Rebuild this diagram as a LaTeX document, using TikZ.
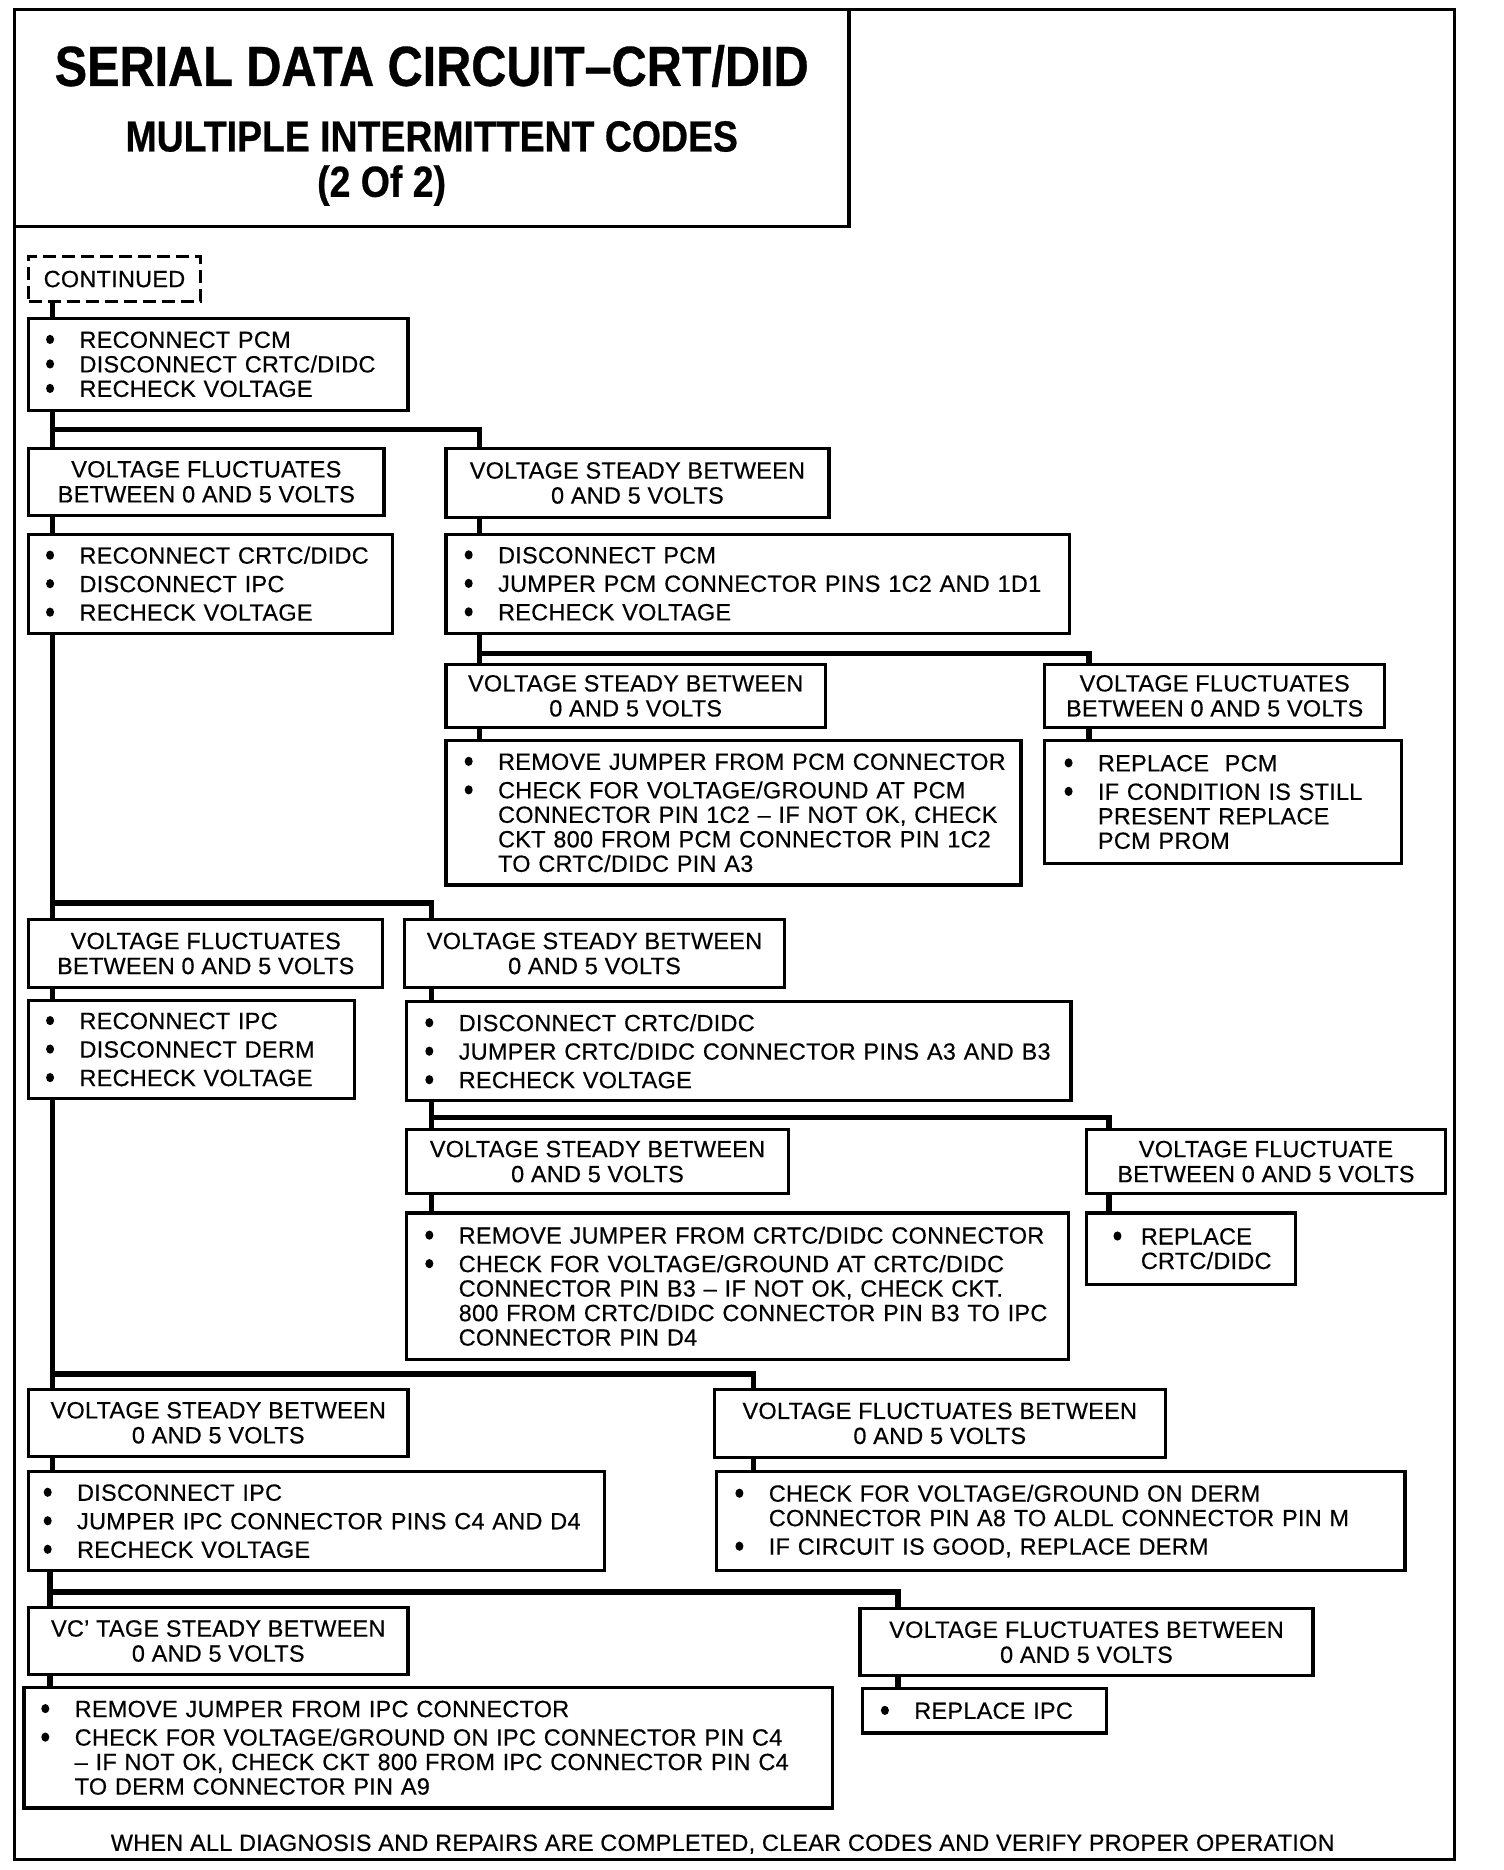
\documentclass[tikz,border=0pt]{standalone}
\usepackage{fontspec}
\setmainfont{Liberation Sans}[LetterSpace=1,FakeBold=0.4]
\newfontfamily\titlefont{Liberation Sans}[FakeStretch=0.86,FakeBold=0.6]
\newcommand\bodyfont{\fontsize{23.5}{24.5}\selectfont}
\newcommand\bul{\tikz[baseline=-8.5pt]\fill (0,0) ellipse[x radius=4pt,y radius=4.6pt];}
\newcommand\itm[1]{\mbox{\makebox[33.4pt][l]{\bul}#1}}
\newcommand\cnt[1]{\mbox{\hspace*{33.4pt}#1}}
\newcommand\hbx[7][hbox]{%
  \pgfmathsetlengthmacro\bxw{(#5-#3)*1.1927pt}%
  \pgfmathsetlengthmacro\bxh{(#6-#4)*1.1927pt}%
  \node[#1,minimum width=\bxw,minimum height=\bxh,anchor=north west] (#2) at (#3,#4) {#7};}
\newcommand\lbx[7]{%
  \pgfmathsetlengthmacro\bxw{(#4-#2)*1.1927pt}%
  \pgfmathsetlengthmacro\bxh{(#5-#3)*1.1927pt}%
  \pgfmathsetlengthmacro\bxs{#6*1.1927pt-4pt}%
  \pgfmathsetlengthmacro\bxt{\bxw-2*\bxs}%
  \node[lbox,inner xsep=\bxs,text width=\bxt,minimum height=\bxh,anchor=north west] (#1) at (#2,#3) {#7};}
\begin{document}
\begin{tikzpicture}[x=1.1927pt,y=-1.1927pt,
  box/.style={draw,line width=3.3pt,inner sep=0pt,outer sep=0pt,font=\bodyfont},
  hbox/.style={box,align=center,font=\fontsize{23.5}{25}\selectfont},
  lbox/.style={box,align=left},
  dbox/.style={hbox,dash pattern=on 13pt off 6pt},
  conn/.style={line width=5.5pt},
  frame/.style={line width=3pt},
  ttl/.style={font=\titlefont\bfseries\fontsize{56.5}{60}\selectfont,anchor=base,inner sep=0pt},
  sub/.style={font=\titlefont\bfseries\fontsize{43.5}{46}\selectfont,anchor=base,inner sep=0pt},
  foot/.style={font=\bodyfont,anchor=base,inner sep=0pt}]
\useasboundingbox (0,0) rectangle (1261,1568);
\draw[frame] (12,8) rectangle (1220,1559);
\hbx{titlebox}{12}{8}{712}{190}{}
\node[ttl] (title) at (362,72) {SERIAL DATA CIRCUIT–CRT/DID};
\node[sub] (subtitle) at (362,127) {MULTIPLE INTERMITTENT CODES};
\node[sub] (part) at (320,165) {(2 Of 2)};

\hbx[dbox]{cont}{24}{215}{168}{253}{CONTINUED}
\lbx{b1}{24}{267}{342}{344}{18}{\itm{RECONNECT PCM}\\\itm{DISCONNECT CRTC/DIDC}\\\itm{RECHECK VOLTAGE}}

\hbx{A1}{24}{376}{322}{432}{VOLTAGE FLUCTUATES\\BETWEEN 0 AND 5 VOLTS}
\hbx{B1}{374}{376}{695}{434}{VOLTAGE STEADY BETWEEN\\0 AND 5 VOLTS}
\lbx{A2}{24}{448}{329}{531}{18}{\itm{RECONNECT CRTC/DIDC}\\[4pt]\itm{DISCONNECT IPC}\\[4pt]\itm{RECHECK VOLTAGE}}
\lbx{B2}{374}{448}{897}{531}{19}{\itm{DISCONNECT PCM}\\[4pt]\itm{JUMPER PCM CONNECTOR PINS 1C2 AND 1D1}\\[4pt]\itm{RECHECK VOLTAGE}}

\hbx{B3}{374}{557}{692}{610}{VOLTAGE STEADY BETWEEN\\0 AND 5 VOLTS}
\hbx{C3}{876}{557}{1161}{610}{VOLTAGE FLUCTUATES\\BETWEEN 0 AND 5 VOLTS}
\lbx{B4}{374}{621}{856}{742}{19}{\itm{REMOVE JUMPER FROM PCM CONNECTOR}\\[4pt]\itm{CHECK FOR VOLTAGE/GROUND AT PCM}\\\cnt{CONNECTOR PIN 1C2 – IF NOT OK, CHECK}\\\cnt{CKT 800 FROM PCM CONNECTOR PIN 1C2}\\\cnt{TO CRTC/DIDC PIN A3}}
\lbx{C4}{876}{621}{1175}{724}{20}{\itm{REPLACE\ \ PCM}\\[4pt]\itm{IF CONDITION IS STILL}\\\cnt{PRESENT REPLACE}\\\cnt{PCM PROM}}

\hbx{D1}{24}{771}{321}{828}{VOLTAGE FLUCTUATES\\BETWEEN 0 AND 5 VOLTS}
\hbx{E1}{339}{771}{658}{828}{VOLTAGE STEADY BETWEEN\\0 AND 5 VOLTS}
\lbx{D2}{24}{839}{297}{921}{18}{\itm{RECONNECT IPC}\\[4pt]\itm{DISCONNECT DERM}\\[4pt]\itm{RECHECK VOLTAGE}}
\lbx{E2}{341}{840}{898}{923}{19}{\itm{DISCONNECT CRTC/DIDC}\\[4pt]\itm{JUMPER CRTC/DIDC CONNECTOR PINS A3 AND B3}\\[4pt]\itm{RECHECK VOLTAGE}}

\hbx{E3}{341}{947}{661}{1001}{VOLTAGE STEADY BETWEEN\\0 AND 5 VOLTS}
\hbx{F3}{911}{947}{1212}{1001}{VOLTAGE FLUCTUATE\\BETWEEN 0 AND 5 VOLTS}
\lbx{E4}{341}{1017}{896}{1140}{19}{\itm{REMOVE JUMPER FROM CRTC/DIDC CONNECTOR}\\[4pt]\itm{CHECK FOR VOLTAGE/GROUND AT CRTC/DIDC}\\\cnt{CONNECTOR PIN B3 – IF NOT OK, CHECK CKT.}\\\cnt{800 FROM CRTC/DIDC CONNECTOR PIN B3 TO IPC}\\\cnt{CONNECTOR PIN D4}}
\lbx{F4}{911}{1017}{1086}{1077}{26}{\mbox{\makebox[27.4pt][l]{\bul}REPLACE}\\\mbox{\hspace*{27.4pt}CRTC/DIDC}}

\hbx{G1}{24}{1165}{342}{1221}{VOLTAGE STEADY BETWEEN\\0 AND 5 VOLTS}
\hbx{H1}{599}{1165}{977}{1222}{VOLTAGE FLUCTUATES BETWEEN\\0 AND 5 VOLTS}
\lbx{G2}{24}{1234}{507}{1317}{16}{\itm{DISCONNECT IPC}\\[4pt]\itm{JUMPER IPC CONNECTOR PINS C4 AND D4}\\[4pt]\itm{RECHECK VOLTAGE}}
\lbx{H2}{601}{1234}{1178}{1317}{19}{\itm{CHECK FOR VOLTAGE/GROUND ON DERM}\\\cnt{CONNECTOR PIN A8 TO ALDL CONNECTOR PIN M}\\[4pt]\itm{IF CIRCUIT IS GOOD, REPLACE DERM}}

\hbx{I1}{24}{1348}{342}{1404}{VC' TAGE STEADY BETWEEN\\0 AND 5 VOLTS}
\hbx{J1}{721}{1349}{1101}{1405}{VOLTAGE FLUCTUATES BETWEEN\\0 AND 5 VOLTS}
\lbx{I2}{20}{1415}{698}{1516}{18}{\itm{REMOVE JUMPER FROM IPC CONNECTOR}\\[4pt]\itm{CHECK FOR VOLTAGE/GROUND ON IPC CONNECTOR PIN C4}\\\cnt{– IF NOT OK, CHECK CKT 800 FROM IPC CONNECTOR PIN C4}\\\cnt{TO DERM CONNECTOR PIN A9}}
\lbx{J2}{723}{1416}{928}{1453}{19}{\itm{REPLACE IPC}}

\node[foot] (footer) at (606,1552) {WHEN ALL DIAGNOSIS AND REPAIRS ARE COMPLETED, CLEAR CODES AND VERIFY PROPER OPERATION};

\coordinate (tA) at (44,0);
\coordinate (tL) at (42,0);
\coordinate (j1) at (402,360);
\coordinate (j2) at (913,548);
\coordinate (j3) at (362,757);
\coordinate (j4) at (930,937);
\coordinate (j5) at (632,1152);
\coordinate (j6) at (753,1335);

\draw[conn] (cont.south -| tA) -- (b1.north -| tA);
\draw[conn] (b1.south -| tA) -- (A1.north -| tA);
\draw[conn] (j1 -| tA) -- (j1) -- (B1.north -| j1);
\draw[conn] (A1.south -| tA) -- (A2.north -| tA);
\draw[conn] (B1.south -| j1) -- (B2.north -| j1);
\draw[conn] (B2.south -| j1) -- (B3.north -| j1);
\draw[conn] (j2 -| j1) -- (j2) -- (C3.north -| j2);
\draw[conn] (B3.south -| j1) -- (B4.north -| j1);
\draw[conn] (C3.south -| j2) -- (C4.north -| j2);
\draw[conn] (A2.south -| tA) -- (D1.north -| tA);
\draw[conn] (j3 -| tA) -- (j3) -- (E1.north -| j3);
\draw[conn] (D1.south -| tA) -- (D2.north -| tA);
\draw[conn] (E1.south -| j3) -- (E2.north -| j3);
\draw[conn] (E2.south -| j3) -- (E3.north -| j3);
\draw[conn] (j4 -| j3) -- (j4) -- (F3.north -| j4);
\draw[conn] (E3.south -| j3) -- (E4.north -| j3);
\draw[conn] (F3.south -| j4) -- (F4.north -| j4);
\draw[conn] (D2.south -| tA) -- (G1.north -| tA);
\draw[conn] (j5 -| tA) -- (j5) -- (H1.north -| j5);
\draw[conn] (G1.south -| tA) -- (G2.north -| tA);
\draw[conn] (H1.south -| j5) -- (H2.north -| j5);
\draw[conn] (G2.south -| tL) -- (I1.north -| tL);
\draw[conn] (j6 -| tL) -- (j6) -- (J1.north -| j6);
\draw[conn] (I1.south -| tL) -- (I2.north -| tL);
\draw[conn] (J1.south -| j6) -- (J2.north -| j6);
\end{tikzpicture}
\end{document}
